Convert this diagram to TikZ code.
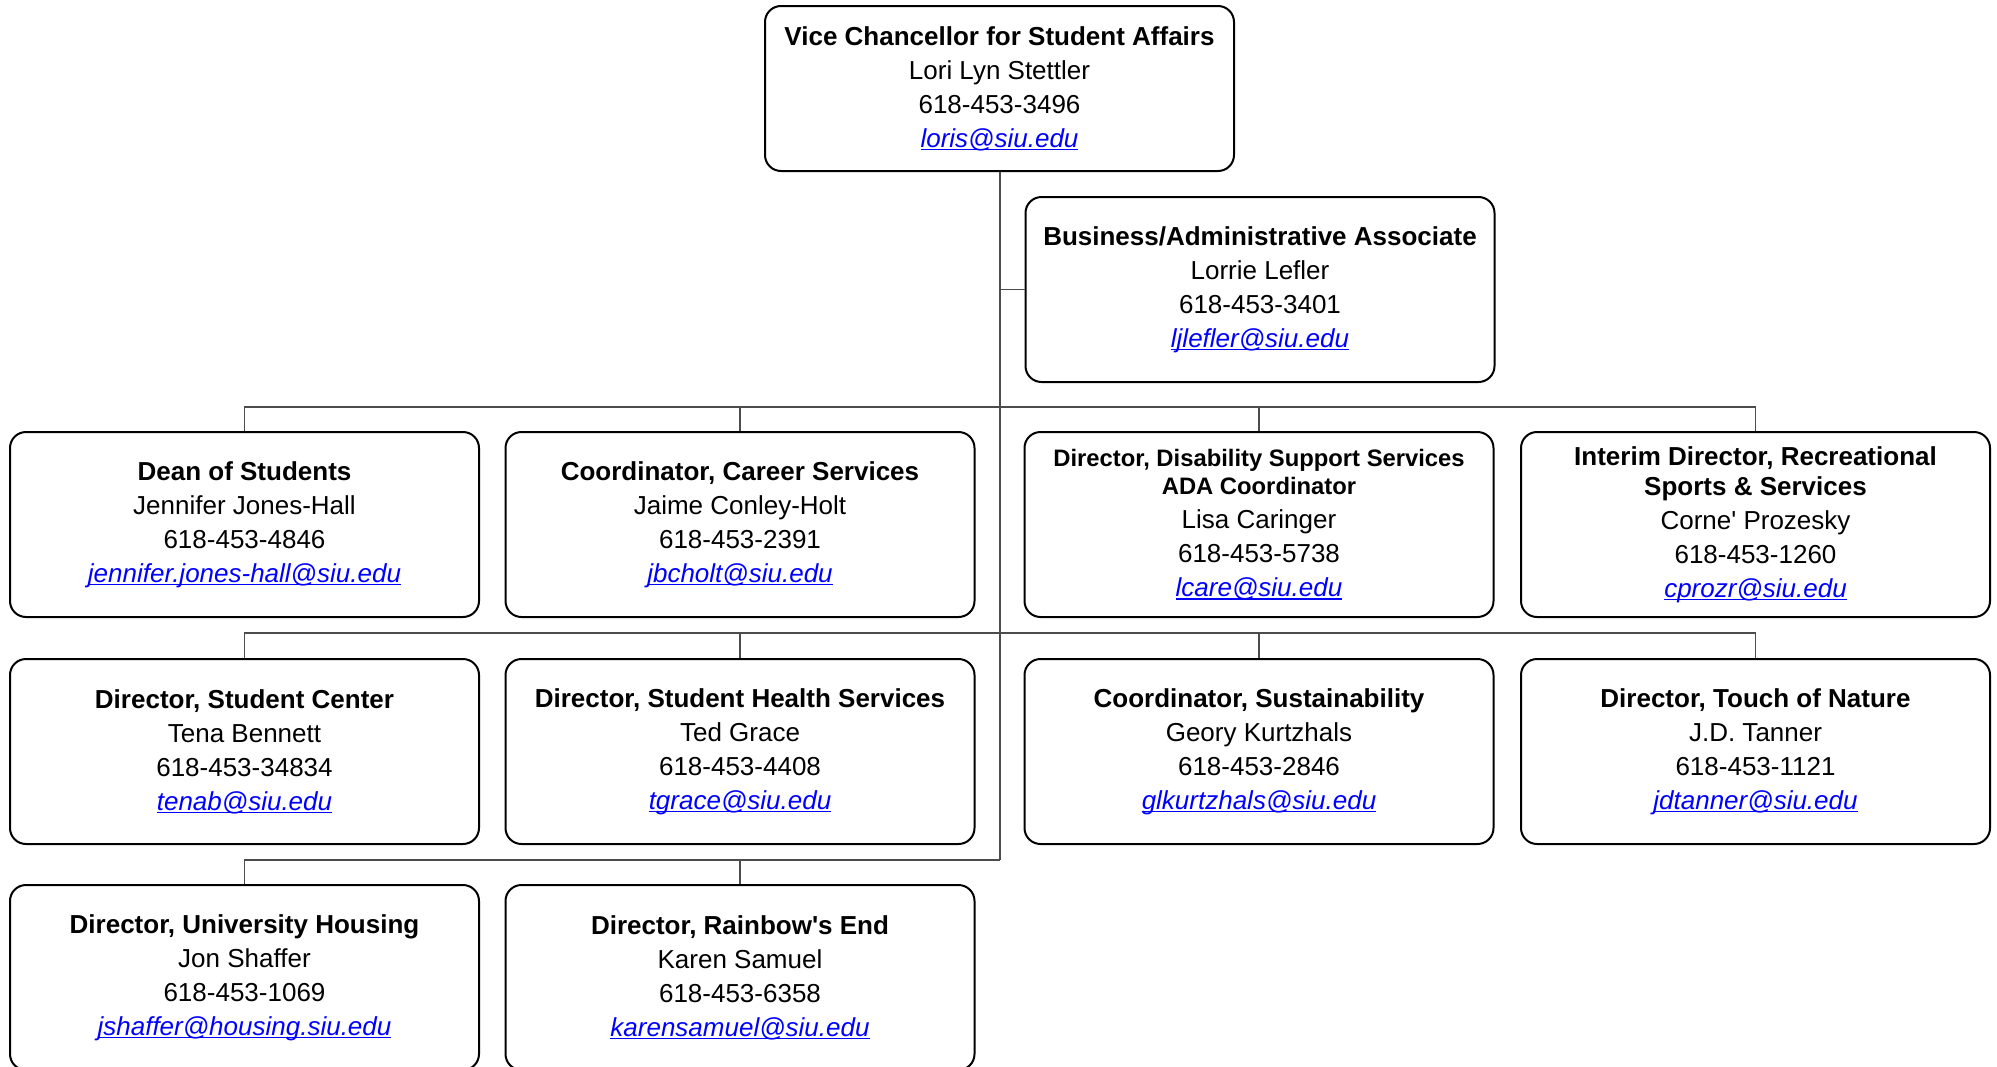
\documentclass[tikz,border=0pt]{standalone}
\usepackage{fontspec}
\setmainfont{Liberation Sans}

\tikzset{
  unitbox/.style={draw, line width=1pt, rounded corners=8pt, minimum width=234.5pt,
    minimum height=92.5pt, align=center, inner sep=0pt, font=\fontsize{13}{17}\selectfont},
  link/.style={draw=black!70, line width=0.6pt},
}
\newcommand{\mail}[1]{\textcolor{blue}{\setbox0\hbox{\itshape #1}\rlap{\rule[-1.6pt]{\wd0}{0.7pt}}\box0}}
\newcommand{\smalltitle}[1]{{\fontsize{11.9}{14}\selectfont\bfseries #1}}

\begin{document}
\begin{tikzpicture}[x=0.5pt, y=-0.5pt]
        \useasboundingbox (0, 0) rectangle (1997, 1066);
        \node[unitbox, minimum height=82.5pt] (vc) at (999.5, 88.5) {\textbf{Vice Chancellor for Student Affairs}\\Lori Lyn Stettler\\618-453-3496\\\mail{loris@siu.edu}};
        \node[unitbox] (ba) at (1260, 289.5) {\textbf{Business/Administrative Associate}\\Lorrie Lefler\\618-453-3401\\\mail{ljlefler@siu.edu}};
        \node[unitbox] (ds) at (244.5, 524.5) {\textbf{Dean of Students}\\Jennifer Jones-Hall\\618-453-4846\\\mail{jennifer.jones-hall@siu.edu}};
        \node[unitbox] (cs) at (740, 524.5) {\textbf{Coordinator, Career Services}\\Jaime Conley-Holt\\618-453-2391\\\mail{jbcholt@siu.edu}};
        \node[unitbox] (dss) at (1259, 524.5) {\smalltitle{Director, Disability Support Services}\\[-3pt]\smalltitle{ADA Coordinator}\\Lisa Caringer\\618-453-5738\\\mail{lcare@siu.edu}};
        \node[unitbox] (rec) at (1755.5, 524.5) {\textbf{Interim Director, Recreational}\\[-2pt]\textbf{Sports \& Services}\\Corne\textquotesingle{} Prozesky\\618-453-1260\\\mail{cprozr@siu.edu}};
        \node[unitbox] (sc) at (244.5, 751.5) {\textbf{Director, Student Center}\\Tena Bennett\\618-453-34834\\\mail{tenab@siu.edu}};
        \node[unitbox] (shs) at (740, 751.5) {\textbf{Director, Student Health Services}\\Ted Grace\\618-453-4408\\\mail{tgrace@siu.edu}};
        \node[unitbox] (sus) at (1259, 751.5) {\textbf{Coordinator, Sustainability}\\Geory Kurtzhals\\618-453-2846\\\mail{glkurtzhals@siu.edu}};
        \node[unitbox] (ton) at (1755.5, 751.5) {\textbf{Director, Touch of Nature}\\J.D. Tanner\\618-453-1121\\\mail{jdtanner@siu.edu}};
        \node[unitbox] (uh) at (244.5, 977.5) {\textbf{Director, University Housing}\\Jon Shaffer\\618-453-1069\\\mail{jshaffer@housing.siu.edu}};
        \node[unitbox] (re) at (740, 977.5) {\textbf{Director, Rainbow\textquotesingle{}s End}\\Karen Samuel\\618-453-6358\\\mail{karensamuel@siu.edu}};
        \coordinate (j1) at (1000, 407);
        \coordinate (j2) at (1000, 633);
        \coordinate (j3) at (1000, 860);
        \draw[link] (vc.south -| j1) -- (j3);
        \draw[link] (j1 |- ba.west) -- (ba.west);
        \draw[link] (ds.north) |- (j1) -| (rec.north);
        \draw[link] (cs.north) -- (cs.north |- j1);
        \draw[link] (dss.north) -- (dss.north |- j1);
        \draw[link] (sc.north) |- (j2) -| (ton.north);
        \draw[link] (shs.north) -- (shs.north |- j2);
        \draw[link] (sus.north) -- (sus.north |- j2);
        \draw[link] (uh.north) |- (j3);
        \draw[link] (re.north) -- (re.north |- j3);
      \end{tikzpicture}
\end{document}
